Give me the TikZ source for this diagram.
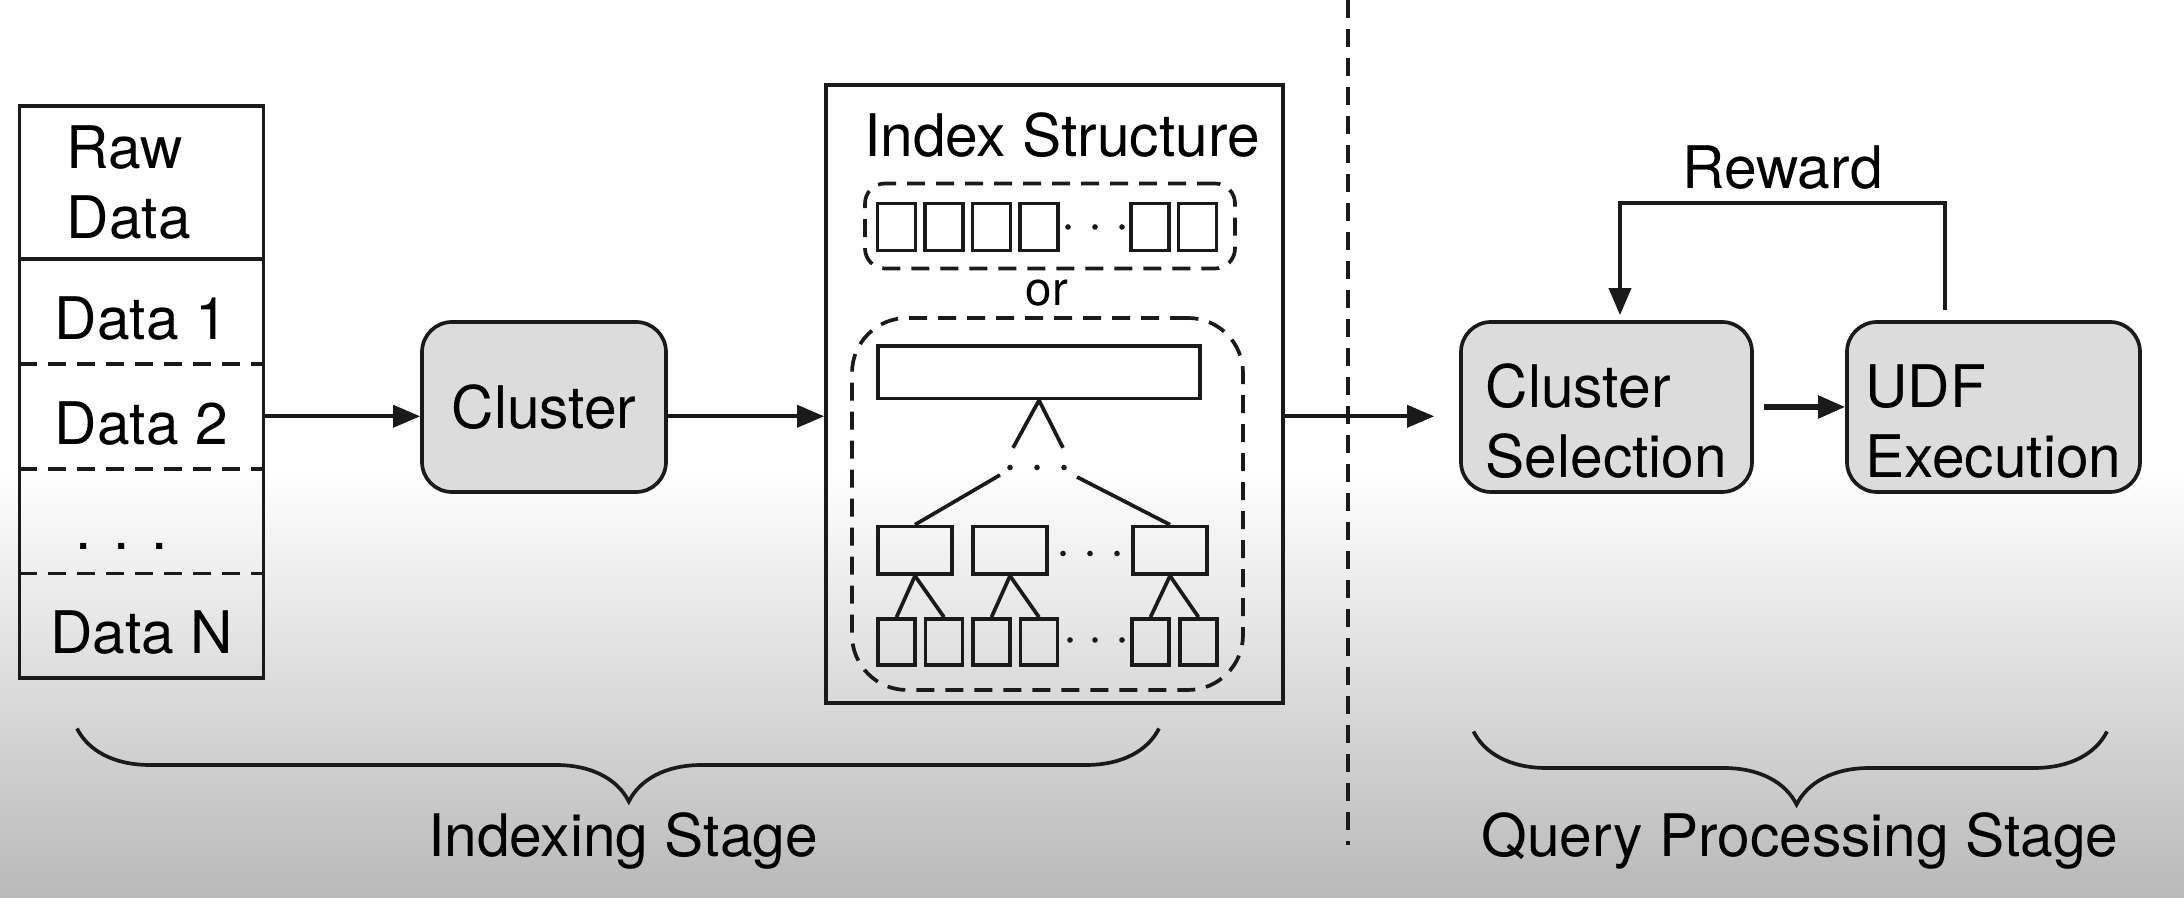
\documentclass[tikz,border=0pt]{standalone}
\usepackage{fontspec}
\setmainfont{TeX Gyre Heros}
\usetikzlibrary{arrows.meta,positioning,calc,decorations.pathreplacing}
\definecolor{ixLine}{HTML}{1A1A1A}
\definecolor{ixFill}{HTML}{DCDCDC}
\definecolor{ixBot}{HTML}{B9B9B9}
\tikzset{
  ix/.style={font=\fontsize{16.7}{20}\selectfont, line width=1.05pt, >={Triangle[length=2.7mm, width=2.2mm]}},
  cell/.style={minimum width=24.4mm, inner sep=0pt, outer sep=0pt},
  row/.style={cell, minimum height=10.48mm, text height=5.6mm, text depth=0mm},
  proc/.style={draw=ixLine, fill=ixFill, rounded corners=3mm, minimum height=17mm, align=left, inner sep=0pt},
  sq/.style={draw=ixLine, minimum width=3.8mm, minimum height=4.7mm, inner sep=0pt},
  bar/.style={draw=ixLine, inner sep=0pt},
  dsh/.style={dash pattern=on 1.8mm off 1.1mm},
  grp/.style={draw=ixLine, dsh, rounded corners=2mm, inner sep=0pt},
  flow/.style={->, draw=ixLine},
  stagebrace/.style={decorate, decoration={brace, amplitude=7.3mm, mirror, aspect=.51}},
}
\begin{document}
\begin{tikzpicture}[ix, x=1cm, y=1cm]
% tło
\fill[white] (0,0) rectangle (21.84,8.98);
\shade[top color=white, bottom color=ixBot] (0,0) rectangle (21.84,4.3);
\useasboundingbox (0,0) rectangle (21.84,8.98);

% tabela z danymi
\node[cell, minimum height=15.32mm, text width=14.9mm, align=left] (raw) at (1.414,7.155) {Raw\\Data};
\node[row, below=0pt of raw] (d1) {Data 1};
\node[row, below=0pt of d1] (d2) {Data 2};
\node[row, below=0pt of d2] (dd) {. . .\hspace*{4mm}};
\node[row, below=0pt of dd] (dn) {Data N};
\draw[ixLine] (raw.north west) rectangle (dn.south east);
\draw[ixLine] (raw.south west) -- (raw.south east);
\foreach \r in {d1,d2,dd} \draw[ixLine, dsh] (\r.south west) -- (\r.south east);

% klastrowanie
\node[proc, minimum width=24.4mm] (cluster) at (5.44,4.91) {Cluster};

% struktura indeksu
\node[draw=ixLine, minimum width=45.7mm, minimum height=61.8mm, inner sep=0pt] (idx) at (10.545,5.04) {};
\node (idxtitle) at (10.62,7.63) {Index Structure};
\node[grp, minimum width=37mm, minimum height=8.5mm] (arr) at (10.50,6.72) {};
\foreach \i/\x in {1/8.965,2/9.44,3/9.915,4/10.39,5/11.50,6/11.975}
  \node[sq] (a\i) at (\x,6.71) {};
\foreach \x in {10.68,10.95,11.22} \fill[ixLine] (\x,6.71) circle (.8pt);
\node[font=\fontsize{13.5}{16}\selectfont] (or) at (10.47,6.05) {or};
\node[grp, rounded corners=5.5mm, minimum width=39.1mm, minimum height=37.2mm] (tree) at (10.475,3.94) {};
\node[bar, minimum width=32.2mm, minimum height=5.25mm] (root) at (10.39,5.2575) {};
\draw[ixLine] (root.south) -- ++(-.26,-.475);
\draw[ixLine] (root.south) -- ++(.24,-.475);
\foreach \x in {10.10,10.37,10.64} \fill[ixLine] (\x,4.305) circle (.8pt);
\coordinate (tl) at (10.00,4.23);
\coordinate (tr) at (10.77,4.21);
\foreach \i/\x in {1/9.15,2/10.10,3/11.70}
  \node[bar, minimum width=7.4mm, minimum height=4.75mm] (m\i) at (\x,3.477) {};
\foreach \x in {10.63,10.90,11.17} \fill[ixLine] (\x,3.445) circle (.8pt);
\foreach \i/\x in {1/8.965,2/9.44,3/9.915,4/10.39,5/11.505,6/11.985}
  \node[sq, minimum width=3.7mm, minimum height=4.6mm] (l\i) at (\x,2.56) {};
\foreach \x in {10.70,10.95,11.22} \fill[ixLine] (\x,2.58) circle (.8pt);
\draw[ixLine] (tl) -- (m1.north);
\draw[ixLine] (tr) -- (m3.north);
\foreach \m/\a/\b in {1/1/2,2/3/4,3/5/6} {
  \draw[ixLine] (m\m.south) -- (l\a.north);
  \draw[ixLine] (m\m.south) -- (l\b.north);
}

% przetwarzanie zapytań
\node[proc, minimum width=29.1mm, text height=14.2mm] (sel) at (16.065,4.91) {Cluster\\Selection};
\node[proc, minimum width=29.3mm, text height=14.2mm] (udf) at (19.935,4.91) {UDF\\Execution};

\coordinate (divtop) at (13.48,8.98);
\coordinate (divbot) at (13.48,0.525);
\draw[ixLine, dsh] (divtop) -- (divbot);

\draw[flow] (d2.east) -- (d2.east -| cluster.west);
\draw[flow] (d2.east -| cluster.east) -- (d2.east -| idx.west);
\draw[flow, shorten >=2.5mm] (d2.east -| idx.east) -- (d2.east -| sel.west);
\draw[flow, line width=1.5pt, shorten <=1mm] (sel) -- (udf);
\draw[flow, shorten <=1mm, shorten >=.5mm] ([xshift=-4.85mm]udf.north) -- ++(0,1.17)
  -| node[pos=.25, above] {Reward} ([xshift=1.35mm]sel.north);

% etapy
\coordinate (b1l) at (0.77,1.695);
\coordinate (b1r) at (11.59,1.695);
\coordinate (b2l) at (14.735,1.665);
\coordinate (b2r) at (21.07,1.665);
\draw[ixLine, stagebrace] (b1l) -- (b1r);
\draw[ixLine, stagebrace] (b2l) -- (b2r);
\node[anchor=base] (idxstage) at (6.23,0.41) {Indexing Stage};
\node[anchor=base] (qstage) at (18.0,0.41) {Query Processing Stage};
\end{tikzpicture}
\end{document}
